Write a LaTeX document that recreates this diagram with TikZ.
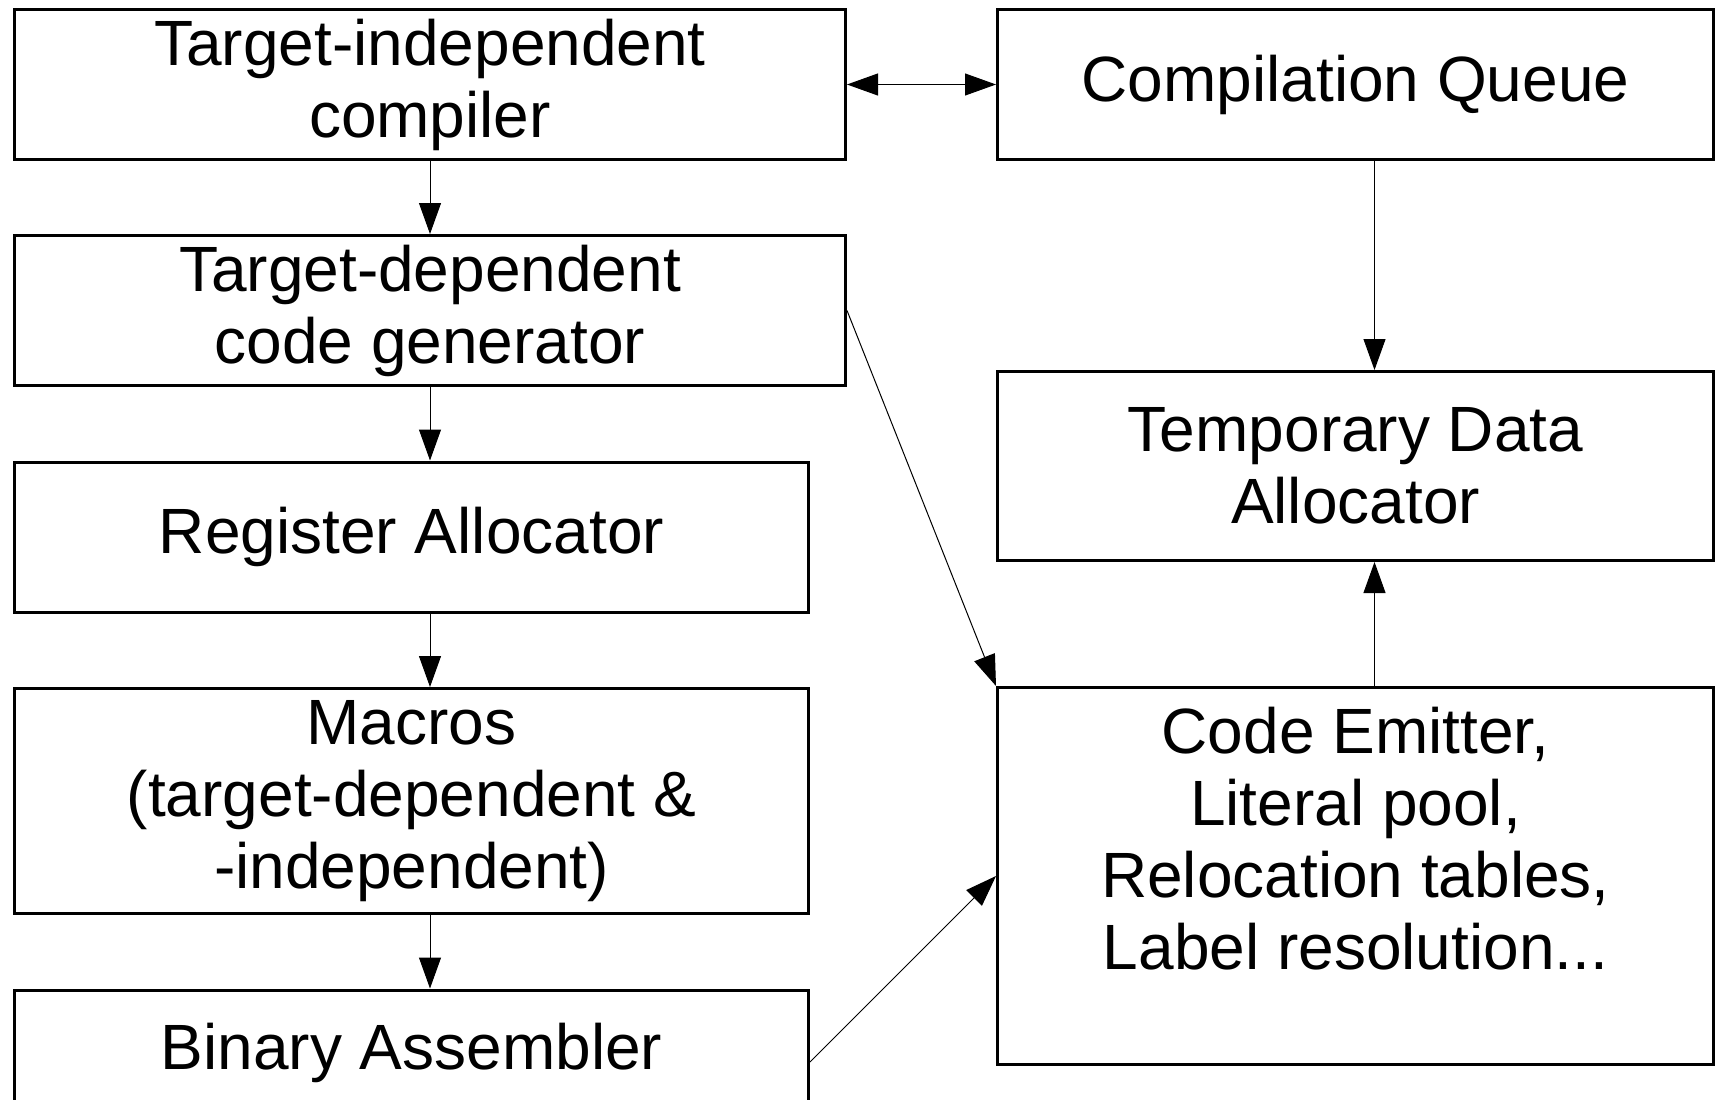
\documentclass[tikz,border=0pt]{standalone}
\usepackage{fontspec}
\setmainfont{Liberation Sans}
\usetikzlibrary{positioning,arrows.meta}

\tikzset{
  block/.style={draw, line width=3pt, rectangle, align=center, inner sep=0pt,
    font=\fontsize{64pt}{72pt}\selectfont},
  flow/.style={line width=1pt, -{Triangle[length=31pt,width=22pt]}},
}

\begin{document}
\begin{tikzpicture}[x=1pt,y=1pt]
    \useasboundingbox (0,0) rectangle (1721,-1100);
    % left column
    \node[block, minimum width=831pt, minimum height=150pt, anchor=north west](tic) at (13,-8){Target-independent\\compiler};
    \node[block, minimum width=831pt, minimum height=150pt, node distance=73pt](tdc)[below =of tic]{Target-dependent\\code generator};
    \node[block, minimum width=794pt, minimum height=150pt, node distance=73.5pt](ra)[below =of tdc.south west, anchor=north west]{Register Allocator};
    \node[block, minimum width=794pt, minimum height=225pt, node distance=73.5pt](mac)[below =of ra]{Macros\\(target-dependent \&\\-independent)};
    \node[block, minimum width=794pt, minimum height=144pt, node distance=73.5pt, text depth=31pt](asm)[below =of mac]{Binary Assembler};
    % right column
    \node[block, minimum width=716pt, minimum height=150pt, anchor=north west](cq) at (996,-8){Compilation Queue};
    \node[block, minimum width=716pt, minimum height=189pt, node distance=209pt](tda)[below =of cq]{Temporary Data\\Allocator};
    \node[block, minimum width=716pt, minimum height=377pt, node distance=124pt](emit)[below =of tda]{Code Emitter,\\Literal pool,\\Relocation tables,\\Label resolution...\\[4pt] \mbox{}};
    % connectors
    \draw[flow] (tic) -- (tdc);
    \draw[flow] (tdc.south) -- (tdc.south |- ra.north);
    \draw[flow] (ra.south -| tdc.south) -- (tdc.south |- mac.north);
    \draw[flow] (mac.south -| tdc.south) -- (tdc.south |- asm.north);
    \draw[line width=1pt, {Triangle[length=31pt,width=22pt]}-{Triangle[length=31pt,width=22pt]}] (tic.east) -- (cq.west);
    \draw[flow] ([xshift=19pt]cq.south) -- ([xshift=19pt]cq.south |- tda.north);
    \draw[flow] ([xshift=19pt]emit.north) -- ([xshift=19pt]emit.north |- tda.south);
    \draw[flow] (tdc.east) -- (emit.north west);
    \draw[flow] (asm.east) -- (emit.west);
\end{tikzpicture}
\end{document}
